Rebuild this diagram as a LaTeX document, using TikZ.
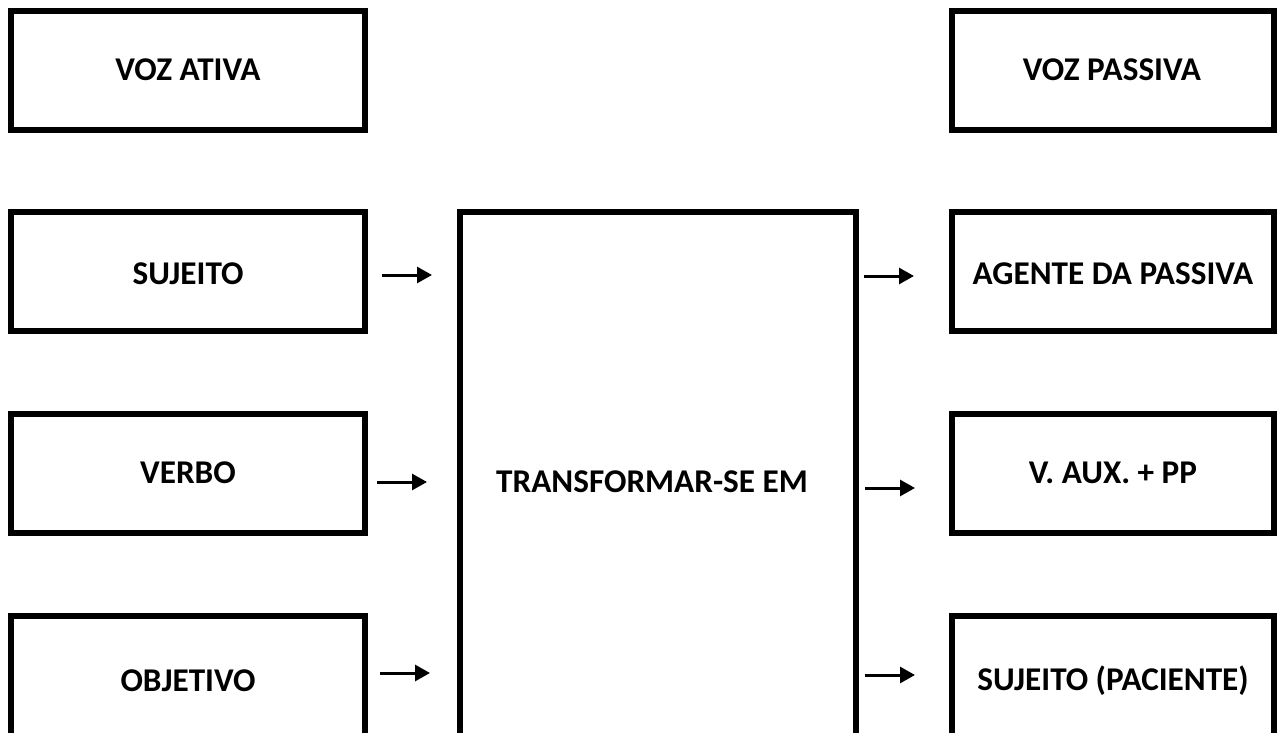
\documentclass[tikz,border=0pt]{standalone}
\usepackage{fontspec}
\setmainfont{Carlito}
\usetikzlibrary{arrows.meta}
\begin{document}
\begin{tikzpicture}[x=1pt,y=-1pt,
  box/.style={draw=black,line width=6pt,rectangle,inner sep=0pt,outer sep=0pt},
  lbl/.style={font=\fontsize{33.2}{38}\selectfont\bfseries,inner sep=0pt,anchor=center},
  arr/.style={line width=3pt,-{Triangle[length=15pt,width=16pt]}}]
\useasboundingbox (0,0) rectangle (1277,733);
\clip (0,0) rectangle (1277,733);
% left column
\node[box,minimum width=354pt,minimum height=119pt] (va) at (188,70.5) {};
\node[box,minimum width=354pt,minimum height=119pt] (suj) at (188,271.5) {};
\node[box,minimum width=354pt,minimum height=119pt] (verb) at (188,473.5) {};
\node[box,minimum width=354pt,minimum height=130pt] (obj) at (188,681) {};
% right column
\node[box,minimum width=322pt,minimum height=119pt] (vp) at (1113,70.5) {};
\node[box,minimum width=322pt,minimum height=119pt] (ag) at (1113,271.5) {};
\node[box,minimum width=322pt,minimum height=119pt] (aux) at (1113,473.5) {};
\node[box,minimum width=322pt,minimum height=130pt] (pac) at (1113,681) {};
% center
\node[box,minimum width=396pt,minimum height=540pt] (tr) at (658,482) {};
% labels
\node[lbl] (tva) at (188,70) {VOZ ATIVA};
\node[lbl] (tsuj) at (188,274) {SUJEITO};
\node[lbl] (tverb) at (188,473) {VERBO};
\node[lbl] (tobj) at (188,681) {OBJETIVO};
\node[lbl] (tvp) at (1112,70) {VOZ PASSIVA};
\node[lbl] (tag) at (1113,274) {AGENTE DA PASSIVA};
\node[lbl] (taux) at (1113,473) {V. AUX. + PP};
\node[lbl] (tpac) at (1113,681) {SUJEITO (PACIENTE)};
\node[lbl] (ttr) at (652,482) {TRANSFORMAR-SE EM};
% arrows
\coordinate (l1s) at (382,275); \coordinate (l1e) at (432,275);
\coordinate (l2s) at (377,482); \coordinate (l2e) at (427,482);
\coordinate (l3s) at (380,673); \coordinate (l3e) at (430,673);
\coordinate (r1s) at (864,276); \coordinate (r1e) at (914,276);
\coordinate (r2s) at (865,488); \coordinate (r2e) at (915,488);
\coordinate (r3s) at (865,675); \coordinate (r3e) at (915,675);
\draw[arr] (l1s) -- (l1e);
\draw[arr] (l2s) -- (l2e);
\draw[arr] (l3s) -- (l3e);
\draw[arr] (r1s) -- (r1e);
\draw[arr] (r2s) -- (r2e);
\draw[arr] (r3s) -- (r3e);
\end{tikzpicture}
\end{document}
